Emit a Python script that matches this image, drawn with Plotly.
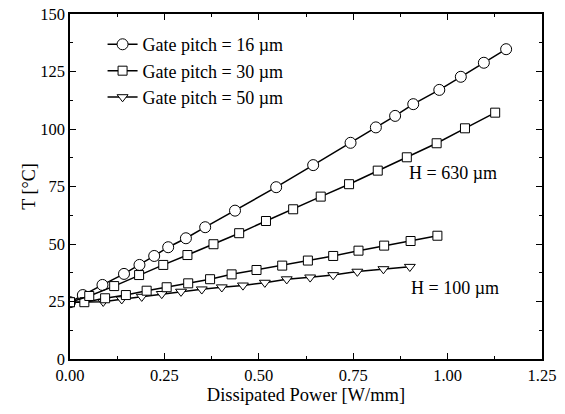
import plotly.graph_objects as go

# Gate pitch = 16 um, H = 630 um (circles)
p16_x = [0.0, 0.034, 0.086, 0.143, 0.184, 0.223, 0.260, 0.307, 0.358, 0.437, 0.546, 0.644,
         0.743, 0.810, 0.861, 0.909, 0.978, 1.035, 1.096, 1.155]
p16_t = [24.7, 27.8, 32.2, 37.0, 40.9, 44.8, 48.6, 52.5, 57.3, 64.5, 74.7, 84.3,
         94.0, 100.7, 105.7, 110.8, 117.0, 122.7, 128.8, 134.7]

# Gate pitch = 30 um, H = 630 um (squares)
p30a_x = [0.0, 0.051, 0.117, 0.183, 0.247, 0.311, 0.380, 0.448, 0.519, 0.591, 0.664, 0.739,
          0.815, 0.892, 0.971, 1.046, 1.126]
p30a_t = [24.7, 27.4, 31.7, 36.5, 40.9, 45.2, 49.9, 54.7, 60.0, 65.1, 70.6, 76.0,
          81.9, 87.7, 93.8, 100.3, 107.1]

# Gate pitch = 30 um, H = 100 um (squares)
p30b_x = [0.0, 0.038, 0.093, 0.148, 0.203, 0.256, 0.313, 0.371, 0.428, 0.494, 0.562, 0.630,
          0.697, 0.764, 0.832, 0.902, 0.973]
p30b_t = [24.7, 24.7, 26.4, 27.8, 29.7, 31.2, 32.9, 34.7, 36.8, 38.7, 40.6, 42.8,
          44.8, 47.1, 49.3, 51.3, 53.6]

# Gate pitch = 50 um, H = 100 um (triangles)
p50_x = [0.0, 0.088, 0.137, 0.190, 0.243, 0.294, 0.349, 0.402, 0.458, 0.516, 0.574, 0.636,
         0.697, 0.761, 0.830, 0.900]
p50_t = [24.7, 24.9, 26.0, 27.1, 28.3, 29.3, 30.3, 31.2, 32.0, 33.2, 34.7, 35.5,
         36.5, 38.0, 39.1, 40.1]

x_ticks = [0.0, 0.25, 0.5, 0.75, 1.0, 1.25]
x_tick_labels = ["0.00", "0.25", "0.50", "0.75", "1.00", "1.25"]
y_ticks = [0, 25, 50, 75, 100, 125, 150]

FONT = "Liberation Serif"

fig = go.Figure()

def add(x, y, name, symbol, size, show, rank, group):
    fig.add_trace(go.Scatter(
        x=x, y=y, name=name, mode="lines+markers",
        line=dict(color="black", width=1.5),
        marker=dict(symbol=symbol, size=size, color="white",
                    line=dict(color="black", width=1)),
        showlegend=show, legendrank=rank, legendgroup=group,
    ))

add(p16_x, p16_t, "Gate pitch = 16 µm", "circle", 11, True, 1, "g16")
add(p50_x, p50_t, "Gate pitch = 50 µm", "triangle-down", 9.5, True, 3, "g50")
add(p30b_x, p30b_t, "Gate pitch = 30 µm", "square", 9, False, 4, "g30")
add(p30a_x, p30a_t, "Gate pitch = 30 µm", "square", 9, True, 2, "g30")

fig.add_annotation(x=1.014, y=80.9, text="H = 630 µm", showarrow=False,
                   font=dict(family=FONT, size=18, color="black"))
fig.add_annotation(x=1.02, y=30.9, text="H = 100 µm", showarrow=False,
                   font=dict(family=FONT, size=18, color="black"))

axis_common = dict(
    showline=True, linecolor="black", linewidth=1.5, mirror="allticks",
    ticks="inside", ticklen=6, tickwidth=1.2, tickcolor="black",
    showgrid=False, zeroline=False, automargin=False,
    tickfont=dict(family=FONT, size=16.5, color="black"),
)

fig.update_xaxes(range=[0, 1.25], tickvals=x_ticks, ticktext=x_tick_labels,
                 minor=dict(dtick=0.125, ticks="inside", ticklen=3, tickwidth=1.2,
                            tickcolor="black", showgrid=False),
                 title=dict(text="Dissipated Power [W/mm]", standoff=2,
                            font=dict(family=FONT, size=18.5, color="black")),
                 **axis_common)
fig.update_yaxes(range=[0, 150], tickvals=y_ticks,
                 minor=dict(dtick=12.5, ticks="inside", ticklen=3, tickwidth=1.2,
                            tickcolor="black", showgrid=False),
                 title=dict(text="T [°C]", standoff=0,
                            font=dict(family=FONT, size=18, color="black")),
                 **axis_common)

fig.update_layout(
    width=565, height=414,
    margin=dict(l=70, r=23, t=14, b=55),
    paper_bgcolor="white", plot_bgcolor="white",
    font=dict(family=FONT, color="black"),
    hovermode=False,
    legend=dict(x=0.069, y=0.965, xanchor="left", yanchor="top",
                bgcolor="rgba(0,0,0,0)", borderwidth=0,
                font=dict(family=FONT, size=18, color="black"),
                tracegroupgap=0),
)

fig.write_html(
    "out.html",
    config={"displayModeBar": False},
    post_script="document.body.style.margin='0';document.body.style.overflow='hidden';",
)
